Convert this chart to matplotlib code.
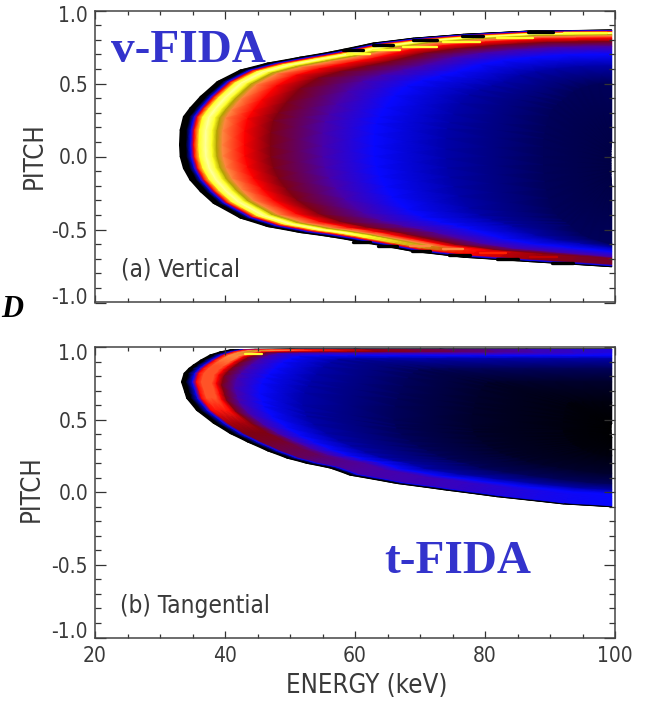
"""
Fast-ion velocity-space sensitivity maps for the vertical and tangential views.
"""

import matplotlib
matplotlib.use("Agg")
import matplotlib.pyplot as plt
import matplotlib.ticker as mticker
import numpy as np
from matplotlib.colors import LinearSegmentedColormap
from matplotlib.transforms import ScaledTranslation

E_END = 99.5

# colour stops of the map
cmap_pos = [0, 0.12, 0.2, 0.28, 0.42, 0.58, 0.70, 0.80, 0.86, 0.92, 1.0]
cmap_col = ["#000000", "#00005a", "#0000a8", "#0808ff", "#4a00a8", "#800010",
            "#ff0000", "#ff8840", "#b0a000", "#ffff20", "#ffffa0"]

# (a) vertical: one entry per contour, outermost first
level_a = [0, 0, 0.28, 0.70, 0.92, 1.0, 0.92, 0.86, 0.80, 0.70, 0.58, 0.42, 0.28, 0.2, 0.12, 0.09]
tip_a = [33.0, 34.0, 34.7, 35.2, 36.0, 37.0, 38.0, 38.7, 39.6, 43, 47, 55, 63, 74, 89, 99.4]
mid_a = [0.08, 0.08, 0.08, 0.08, 0.08, 0.08, 0.08, 0.08, 0.08, 0.08, 0.07, 0.07, 0.07, 0.05, 0.0, -0.05]
up_a = [0.866, 0.865, 0.862, 0.855, 0.848, 0.843, 0.838, 0.832, 0.825, 0.81, 0.787, 0.752, 0.70, 0.62, 0.5, 0.1]
lo_a = [-0.755, -0.752, -0.745, -0.735, -0.725, -0.72, -0.715, -0.71, -0.705, -0.70, -0.695, -0.685, -0.65, -0.62, -0.6, -0.2]

# shape of a contour, as fraction of the way from the tip
up_u_a = [0.0015, 0.009, 0.024, 0.048, 0.087, 0.14, 0.203, 0.278, 0.349, 0.448, 0.54, 0.656, 0.81, 1.0]
up_t_a = [0.13, 0.245, 0.32, 0.42, 0.55, 0.651, 0.712, 0.763, 0.809, 0.887, 0.929, 0.963, 0.992, 1.0]
up_cap_a = [1, 1, 1, 1, 1, 1, 1, 1, 1, 1, 1, 1, 1, 1]
lo_u_a = [0.0015, 0.009, 0.024, 0.048, 0.078, 0.14, 0.203, 0.278, 0.349, 0.40, 0.54, 0.656, 0.81, 1.0]
lo_t_a = [0.096, 0.192, 0.287, 0.383, 0.479, 0.60, 0.67, 0.719, 0.754, 0.785, 0.874, 0.922, 0.958, 1.0]
lo_cap_a = [1, 1, 1, 1, 1, 1, 1, 1, 1, 0.92, 0.84, 0.7, 0.6, 0.55]

# black scallops on the rim and bright blobs in the ridge: energy from, energy to, pitch
rim_e0_a = [58.2, 62.8, 68.9, 76.4, 86.6, 59.7, 63.6, 68.7, 74.4, 81.8, 90.3]
rim_e1_a = [61.3, 65.9, 72.6, 79.7, 90.5, 62.3, 66.4, 71.5, 77.7, 85.1, 93.6]
rim_p_a = [0.732, 0.766, 0.795, 0.823, 0.853, -0.588, -0.616, -0.645, -0.674, -0.705, -0.73]
blob_e0_a = [58.7, 62.8, 67.4, 73.6, 81.8, 92.1, 68.4, 73.6, 79.2, 86.9]
blob_e1_a = [62.3, 66.9, 72.6, 79.2, 87.4, 98.8, 71.5, 76.6, 83.3, 91.0]
blob_p_a = [0.702, 0.73, 0.752, 0.782, 0.811, 0.843, -0.61, -0.633, -0.663, -0.69]
blob_c_a = ["#ffff30", "#ffff30", "#ffff30", "#ffff30", "#ffff30", "#ffff30",
            "#ff8840", "#ff8840", "#ff2000", "#c00000"]

# (b) tangential
level_b = [0, 0, 0.28, 0.70, 0.80, 0.92, 0.80, 0.70, 0.58, 0.42, 0.28, 0.2, 0.12, 0.06, 0.02, 0.0]
tip_b = [33.3, 34.0, 35.0, 35.6, 36.4, 37.2, 38.0, 38.7, 39.5, 41.5, 45.4, 52, 66, 78, 92, 99.4]
mid_b = [0.76, 0.76, 0.76, 0.76, 0.76, 0.76, 0.75, 0.75, 0.74, 0.72, 0.68, 0.6, 0.5, 0.46, 0.44, 0.43]
up_b = [0.985, 0.984, 0.983, 0.982, 0.979, 0.976, 0.972, 0.968, 0.964, 0.958, 0.94, 0.92, 0.85, 0.76, 0.62, 0.47]
lo_b = [-0.10, -0.097, -0.09, -0.085, -0.08, -0.07, -0.065, -0.055, -0.045, -0.03, -0.01, 0.02, 0.06, 0.13, 0.25, 0.38]

up_u_b = [0.006, 0.017, 0.027, 0.044, 0.066, 0.089, 0.113, 0.17, 0.25, 0.4, 0.6, 0.8, 1.0]
up_t_b = [0.26, 0.41, 0.51, 0.66, 0.82, 0.915, 0.98, 0.995, 1.0, 1.0, 1.0, 1.0, 1.0]
up_cap_b = [0.76, 0.76, 0.76, 0.78, 0.8, 0.82, 0.85, 0.8, 0.72, 0.6, 0.5, 0.4, 0.32]
lo_u_b = [0.0075, 0.012, 0.035, 0.074, 0.113, 0.153, 0.2, 0.245, 0.29, 0.346, 0.391, 0.50, 0.615, 0.733, 0.887, 1.0]
lo_t_b = [0.08, 0.13, 0.227, 0.33, 0.413, 0.48, 0.552, 0.61, 0.651, 0.69, 0.746, 0.813, 0.866, 0.919, 0.977, 1.0]
lo_cap_b = [0.76, 0.76, 0.72, 0.62, 0.58, 0.56, 0.52, 0.5, 0.46, 0.44, 0.42, 0.40, 0.38, 0.34, 0.3, 0.28]

blob_e0_b = [43.0]
blob_e1_b = [45.7]
blob_p_b = [0.955]
blob_c_b = ["#ffff30"]

x_ticks = [20, 40, 60, 80, 100]
y_ticks = [-1.0, -0.5, 0.0, 0.5, 1.0]


def draw_map(ax, level, tip, mid, up, lo, up_u, up_t, up_cap, lo_u, lo_t, lo_cap, cmap):
    # strip of quads running around the contours, lower branch -> tip -> upper branch
    u = np.array(lo_u[::-1] + [0.0] + up_u)
    cap = np.array(lo_cap[::-1] + [max(up_cap[0], lo_cap[0])] + up_cap)
    tip, mid, up, lo = map(np.array, (tip, mid, up, lo))
    E = tip[:, None] + (E_END - tip[:, None]) * u[None, :]
    low = mid[:, None] + (lo - mid)[:, None] * np.array(lo_t[::-1])[None, :]
    high = mid[:, None] + (up - mid)[:, None] * np.array(up_t)[None, :]
    P = np.hstack([low, mid[:, None], high])
    V = np.minimum(np.array(level)[:, None], cap[None, :])
    ax.pcolormesh(E, P, V, cmap=cmap, vmin=0, vmax=1, shading="gouraud")


def draw_strokes(ax, e0, e1, p, colors, lw):
    for a, b, y, c in zip(e0, e1, p, colors):
        ax.plot([a, b], [y, y], color=c, lw=lw, solid_capstyle="round", zorder=1.5)


def style_axes(ax, top_shift, bottom_shift):
    ax.set_xlim(20, 100)
    ax.set_ylim(-1, 1)
    ax.set_xticks(x_ticks)
    ax.set_yticks(y_ticks)
    ax.xaxis.set_minor_locator(mticker.MultipleLocator(5))
    ax.yaxis.set_minor_locator(mticker.MultipleLocator(0.1))
    ax.yaxis.set_major_formatter(mticker.FormatStrFormatter("%.1f"))
    ax.tick_params(axis="x", which="major", direction="in", top=True, length=5.4, width=0.9,
                   color="#333333", labelcolor="#3a3a3a", pad=6)
    ax.tick_params(axis="x", which="minor", direction="in", top=True, length=2.9, width=0.9, color="#333333")
    ax.tick_params(axis="y", which="major", direction="in", right=True, length=7.9, width=0.9,
                   color="#333333", labelcolor="#3a3a3a", pad=5)
    ax.tick_params(axis="y", which="minor", direction="in", right=True, length=4.3, width=0.9, color="#333333")
    for label in ax.get_xticklabels() + ax.get_yticklabels():
        label.set_fontsize(15)
        label.set_fontstretch("condensed")
    # end labels sit inside the frame
    labels = ax.get_yticklabels()
    labels[0].set_transform(labels[0].get_transform() + ScaledTranslation(0, bottom_shift / 100, fig.dpi_scale_trans))
    labels[-1].set_transform(labels[-1].get_transform() + ScaledTranslation(0, -top_shift / 100, fig.dpi_scale_trans))
    for spine in ax.spines.values():
        spine.set_color("#444444")
        spine.set_linewidth(1.1)


cmap = LinearSegmentedColormap.from_list("fida", list(zip(cmap_pos, cmap_col)), N=512)

fig = plt.figure(figsize=(6.5, 7.02), dpi=100)
ax_a = fig.add_axes([95 / 650, 1 - 302.5 / 702, 520 / 650, 292 / 702])
ax_b = fig.add_axes([95 / 650, 1 - 637.5 / 702, 520 / 650, 290.5 / 702])

draw_map(ax_a, level_a, tip_a, mid_a, up_a, lo_a, up_u_a, up_t_a, up_cap_a, lo_u_a, lo_t_a, lo_cap_a, cmap)
draw_map(ax_b, level_b, tip_b, mid_b, up_b, lo_b, up_u_b, up_t_b, up_cap_b, lo_u_b, lo_t_b, lo_cap_b, cmap)
draw_strokes(ax_a, rim_e0_a, rim_e1_a, rim_p_a, ["black"] * len(rim_p_a), 2.4)
draw_strokes(ax_a, blob_e0_a, blob_e1_a, blob_p_a, blob_c_a, 1.7)
draw_strokes(ax_b, blob_e0_b, blob_e1_b, blob_p_b, blob_c_b, 1.6)

style_axes(ax_a, 4, 7)
style_axes(ax_b, 4.5, 7.5)
ax_a.tick_params(axis="x", which="both", labelbottom=False)

grey = "#3a3a3a"
fig.text(35 / 650, 1 - 156 / 702, "PITCH", rotation=90, ha="center", va="center", fontsize=18.5,
         fontstretch="condensed", color=grey)
fig.text(32 / 650, 1 - 489 / 702, "PITCH", rotation=90, ha="center", va="center", fontsize=18.5,
         fontstretch="condensed", color=grey)
fig.text(367 / 650, 1 - 686 / 702, "ENERGY (keV)", ha="center", va="center", fontsize=18.5,
         fontstretch="condensed", color=grey)
fig.text(121 / 650, 1 - 270 / 702, "(a) Vertical", ha="left", va="center", fontsize=17.5,
         fontstretch="condensed", color=grey)
fig.text(120 / 650, 1 - 606 / 702, "(b) Tangential", ha="left", va="center", fontsize=17.5,
         fontstretch="condensed", color=grey)

blue = "#3333cc"
fig.text(111 / 650, 1 - 61.5 / 702, "v-FIDA", ha="left", va="baseline", fontsize=34, fontweight="bold",
         family="Liberation Serif", color=blue)
fig.text(384 / 650, 1 - 573 / 702, "t-FIDA", ha="left", va="baseline", fontsize=34, fontweight="bold",
         family="Liberation Serif", color=blue)
fig.text(1 / 650, 1 - 317 / 702, "D", ha="left", va="baseline", fontsize=22, fontweight="bold",
         fontstyle="italic", family="Liberation Serif", color="black")

fig.savefig("out.png", dpi=100)
plt.close(fig)
